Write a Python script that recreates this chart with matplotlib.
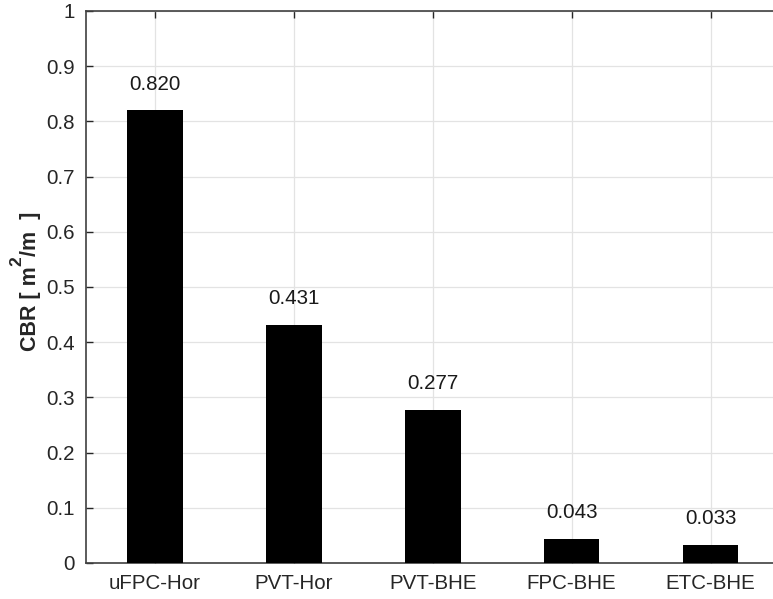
import matplotlib
matplotlib.use("Agg")
import matplotlib.pyplot as plt
from matplotlib.ticker import FuncFormatter
from matplotlib.transforms import IdentityTransform

categories = ["uFPC-Hor", "PVT-Hor", "PVT-BHE", "FPC-BHE", "ETC-BHE"]
values = [0.820, 0.431, 0.277, 0.043, 0.033]
value_labels = ["0.820", "0.431", "0.277", "0.043", "0.033"]
yticks = [0, 0.1, 0.2, 0.3, 0.4, 0.5, 0.6, 0.7, 0.8, 0.9, 1.0]
ylabel_parts = ["CBR [ m", "2", "/m  ]"]

plt.rcParams['font.family'] = ['Liberation Sans', 'DejaVu Sans']
fs = 14.8
axc = '#262626'

fig = plt.figure(figsize=(7.73, 5.99), dpi=100)
left = 85.6 / 773
right = 780 / 773
bottom = (599 - 563) / 599
top = (599 - 11) / 599
ax = fig.add_axes([left, bottom, right - left, top - bottom])

x = list(range(1, len(categories) + 1))
ax.bar(x, values, width=0.4, color='black', zorder=3)
for xi, v, lab in zip(x, values, value_labels):
    ax.annotate(lab, (xi, v), xytext=(0, 15), textcoords='offset points',
                ha='center', va='baseline', fontsize=fs, color='#1a1a1a', zorder=4)

ax.set_xlim(0.5, 5.5)
ax.set_ylim(0, 1)
ax.set_xticks(x)
ax.set_xticklabels(categories)
ax.set_yticks(yticks)
ax.yaxis.set_major_formatter(FuncFormatter(lambda v, p: '%g' % v))
ax.grid(True, color='#e3e3e3', linewidth=0.9, zorder=0)
ax.set_axisbelow(True)
ax.tick_params(direction='in', length=5, width=1, colors=axc, labelsize=fs,
               top=True, right=True, labelcolor=axc)
ax.tick_params(axis='x', pad=8)
ax.tick_params(axis='y', pad=8)
for s in ax.spines.values():
    s.set_color('#404040')
    s.set_linewidth(1.2)

# y label composed of pieces (MATLAB-style large superscript)
renderer = fig.canvas.get_renderer()
base_x = 36.0
ypos = 599 - 351.0
sizes = [15.5, 12.5, 15.5]
raises = [0.0, 15.0, 0.0]
for part, sz, rs in zip(ylabel_parts, sizes, raises):
    t = fig.text(base_x - rs, ypos, part, rotation=90, rotation_mode='anchor',
                 ha='left', va='baseline', fontsize=sz, fontweight='bold',
                 color=axc, transform=IdentityTransform())
    bb = t.get_window_extent(renderer)
    ypos += bb.height + 0.5

fig.savefig('out.png', dpi=100)
